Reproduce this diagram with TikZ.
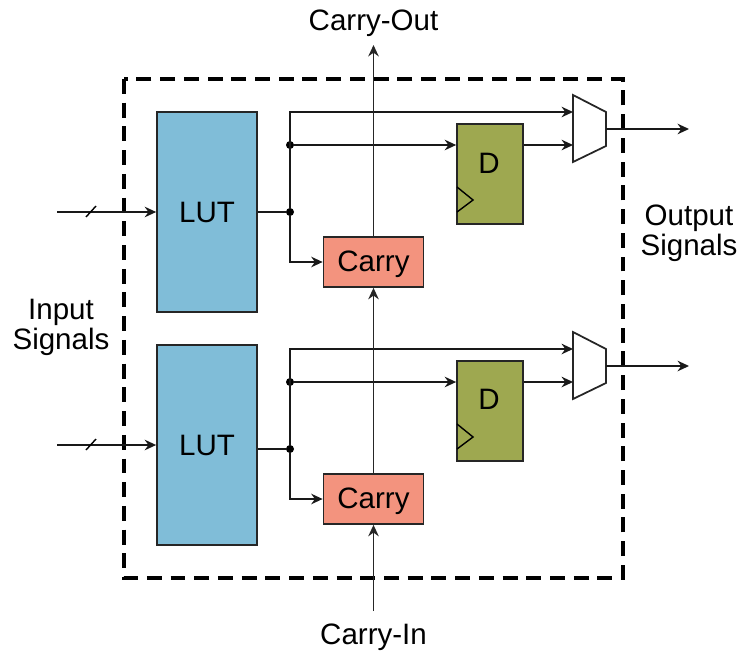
\documentclass[tikz,border=0pt]{standalone}
\usepackage{fontspec}
\setmainfont{Liberation Sans}
\usepackage{tikz}
\usetikzlibrary{arrows.meta}
\definecolor{lutblue}{RGB}{128,189,216}
\definecolor{carryred}{RGB}{243,147,126}
\definecolor{ffgreen}{RGB}{158,168,80}

\begin{document}
\begin{tikzpicture}[
  x=0.02cm,y=-0.02cm,
  every node/.style={font=\fontsize{16.8}{17.2}\selectfont,align=center},
  lut/.style={draw=black!85,fill=lutblue,line width=1pt,minimum width=2cm,minimum height=4cm,inner sep=0pt},
  carry/.style={draw=black!85,fill=carryred,line width=1pt,minimum width=2cm,minimum height=1cm,inner sep=0pt,text depth=1pt},
  ff/.style={draw=black!85,fill=ffgreen,line width=1pt,minimum width=1.32cm,minimum height=2cm,inner sep=0pt},
  dot/.style={circle,fill=black,minimum size=0.16cm,inner sep=0pt},
  wire/.style={-{Stealth[length=6.5pt,width=6pt]},line width=1.05pt,black!90},
  chain/.style={-{Stealth[length=6.5pt,width=6pt]},line width=0.85pt,black!85},
  mux/.style={draw=black!85,fill=white,line width=1pt}
]
\useasboundingbox (0,0) rectangle (742,655);

\draw[line width=1.9pt,dash pattern=on 8.5pt off 5pt] (124,79) rectangle (623,578);

\node[lut] (luta) at (207,212) {LUT};
\node[lut] (lutb) at (207,445) {LUT};
\node[carry] (carrya) at (373.5,262) {Carry};
\node[carry] (carryb) at (373.5,499) {Carry};

% flip flops with clock mark
\node[ff] (ffa) at (490,174) {};
\node[ff] (ffb) at (490,411) {};
\node (da) at (489,163.5) {D};
\node (db) at (489,399.5) {D};
\draw[line width=0.8pt] (457,187) -- (473,200) -- (457,212);
\draw[line width=0.8pt] (457,424) -- (473,437) -- (457,449);

% mux
\draw[mux] (573,95) -- (606,112) -- (606,146) -- (573,162) -- cycle;
\draw[mux] (573,332) -- (606,349) -- (606,383) -- (573,399) -- cycle;
\coordinate (muxaout) at (606,129);
\coordinate (muxbout) at (606,366);
\coordinate (muxatop) at (573,112);
\coordinate (muxalow) at (573,145);
\coordinate (muxbtop) at (573,349);
\coordinate (muxblow) at (573,382);
\coordinate (outa) at (689,129);
\coordinate (outb) at (689,366);

\node[dot] (joina) at (290,212) {};
\node[dot] (splita) at (290,145) {};
\node[dot] (joinb) at (290,449) {};
\node[dot] (splitb) at (290,382) {};

% first slice
\coordinate (ina) at (57,212);
\draw[wire] (ina) -- (luta.west |- ina);
\draw[line width=0.8pt] (86,217) -- (96,206);
\draw[line width=1.05pt,black!90] (luta.east |- joina) -- (joina);
\draw[wire] (joina) |- (muxatop);
\draw[wire] (splita) -- (ffa.west |- splita);
\draw[wire] (ffa.east |- splita) -- (muxalow);
\draw[wire] (joina) |- (carrya.west);
\draw[wire] (muxaout) -- (outa);

% second slice
\coordinate (inb) at (57,445);
\draw[wire] (inb) -- (lutb.west |- inb);
\draw[line width=0.8pt] (86,450) -- (96,439);
\draw[line width=1.05pt,black!90] (lutb.east |- joinb) -- (joinb);
\draw[wire] (joinb) |- (muxbtop);
\draw[wire] (splitb) -- (ffb.west |- splitb);
\draw[wire] (ffb.east |- splitb) -- (muxblow);
\draw[wire] (joinb) |- (carryb.west);
\draw[wire] (muxbout) -- (outb);

% carry chain
\node (cin) at (373.5,637) {Carry-In};
\node (cout) at (373.5,23) {Carry-Out};
\coordinate (cinend) at (373.5,611);
\coordinate (coutend) at (373.5,45);
\draw[chain] (cinend) -- (carryb.south);
\draw[chain] (carryb.north) -- (carrya.south);
\draw[chain] (carrya.north) -- (coutend);

\node (insig) at (61,327.5) {Input\\Signals};
\node (outsig) at (689,233.5) {Output\\Signals};
\end{tikzpicture}
\end{document}
